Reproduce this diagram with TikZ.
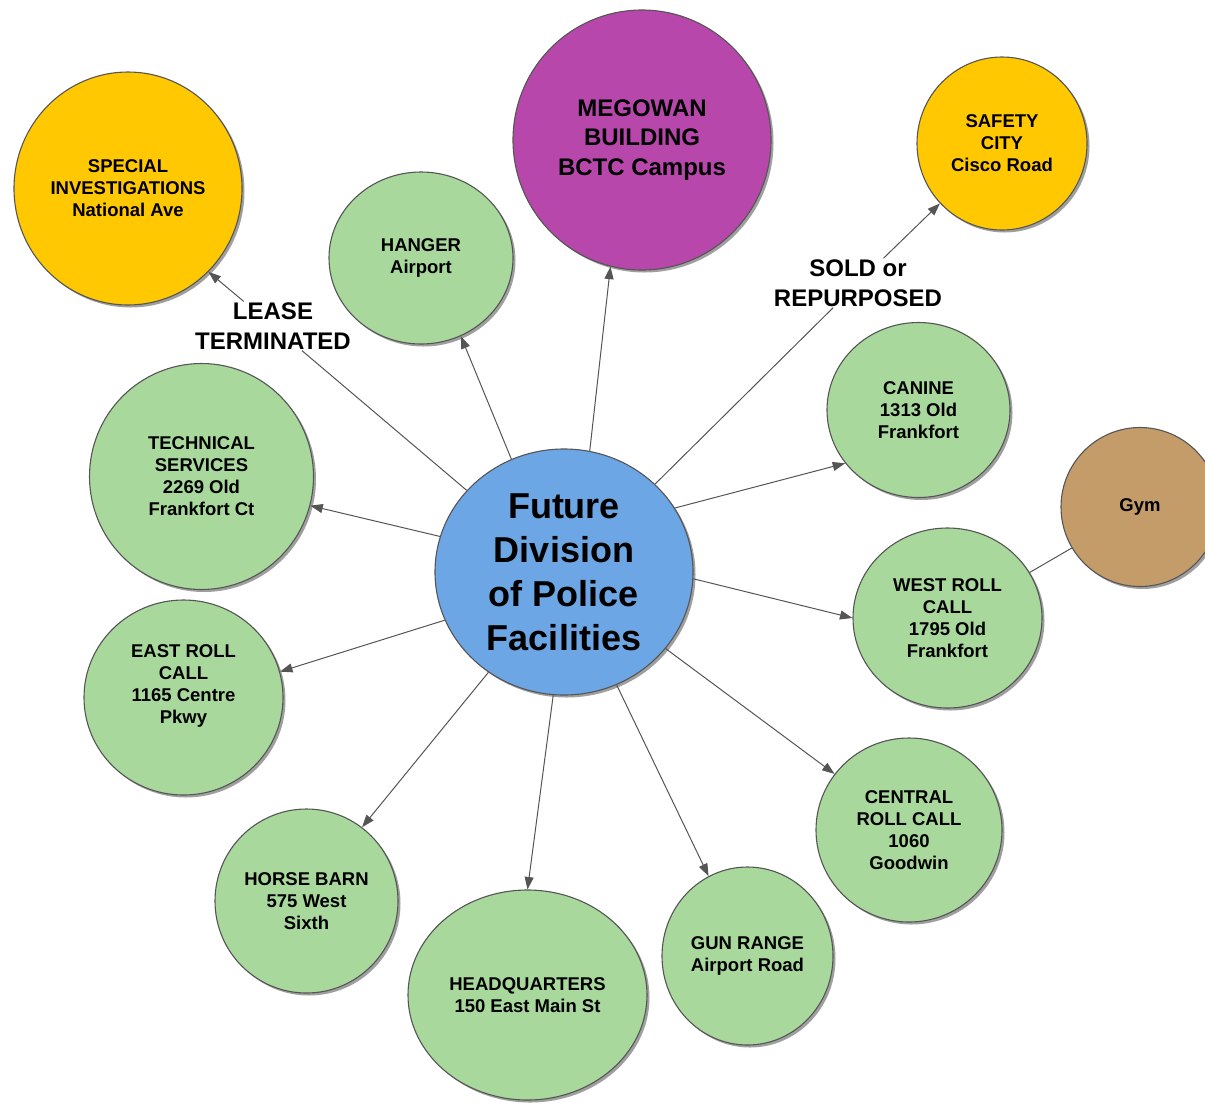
\documentclass[tikz,border=0pt]{standalone}
\usepackage{fontspec}
\setmainfont{Liberation Sans}
\usetikzlibrary{shapes.geometric,arrows.meta,shadows}
\definecolor{bgreen}{HTML}{A8D89C}
\definecolor{byellow}{HTML}{FFC800}
\definecolor{bpurple}{HTML}{B847AC}
\definecolor{bblue}{HTML}{6CA6E4}
\definecolor{btan}{HTML}{C49C6A}
\definecolor{bline}{HTML}{555555}
\begin{document}
\begin{tikzpicture}[x=1pt,y=-1pt,
  bub/.style={ellipse, draw=bline, line width=1.1pt, align=center, inner sep=0pt,
    font=\bfseries\fontsize{18.5}{22}\selectfont,
    drop shadow={shadow xshift=2.5pt,shadow yshift=-2.5pt,opacity=0.5,fill=black!75}},
  gbub/.style={bub, fill=bgreen},
  ybub/.style={bub, fill=byellow},
  conn/.style={draw=bline, line width=1pt, -{Triangle[length=12.5pt,width=9pt]}},
  plainconn/.style={draw=bline, line width=1pt},
  lbl/.style={align=center, inner sep=1pt, font=\bfseries\fontsize{24}{30}\selectfont},
  sz/.style 2 args={minimum width=#1pt, minimum height=#2pt}
]
\useasboundingbox (0,0) rectangle (1205,1104);

% nodes
\node[bub, fill=bblue, sz={258}{246}, font=\bfseries\fontsize{36}{44}\selectfont] (central) at (564,572) {Future\\Division\\of Police\\Facilities};
\node[bub, fill=bpurple, sz={258}{260}, font=\bfseries\fontsize{24}{29.5}\selectfont] (megowan) at (642,140) {MEGOWAN\\BUILDING\\BCTC Campus};
\node[ybub, sz={228}{233}] (special) at (128,188.5) {SPECIAL\\INVESTIGATIONS\\National Ave};
\node[ybub, sz={170}{173}] (safety) at (1002,143.5) {SAFETY\\CITY\\Cisco Road};
\node[gbub, sz={184}{172}] (hanger) at (421,258) {HANGER\\Airport};
\node[gbub, sz={183}{175}] (canine) at (918.5,410) {CANINE\\1313 Old\\Frankfort};
\node[bub, fill=btan, sz={158}{159}] (gym) at (1140,507) {Gym};
\node[gbub, sz={189}{180}] (west) at (947.5,618) {WEST ROLL\\CALL\\1795 Old\\Frankfort};
\node[gbub, sz={186}{184}] (centralrc) at (909,830) {CENTRAL\\ROLL CALL\\1060\\Goodwin};
\node[gbub, sz={171}{178}] (gun) at (747.5,956) {GUN RANGE\\Airport Road};
\node[gbub, sz={239}{210}] (hq) at (527.5,995) {HEADQUARTERS\\150 East Main St};
\node[gbub, sz={183}{184}] (horse) at (306.5,901) {HORSE BARN\\575 West\\Sixth};
\node[gbub, sz={199}{195}] (east) at (183.5,697.5) {};
\node[align=center, inner sep=0pt, font=\bfseries\fontsize{18.5}{22}\selectfont] (easttext) at (183.5,685.5) {EAST ROLL\\CALL\\1165 Centre\\Pkwy};
\node[gbub, sz={224}{226}] (tech) at (201.5,476.5) {TECHNICAL\\SERVICES\\2269 Old\\Frankfort Ct};

% connector labels
\node[lbl] (lease) at (273,326) {LEASE\\TERMINATED};
\node[lbl] (sold) at (858,283) {SOLD or\\REPURPOSED};

% connectors
\draw[plainconn] (central.140) -- (lease);
\draw[conn] (lease) -- (special.-46.5);
\draw[plainconn] (central.44) -- (sold);
\draw[conn] (sold) -- (safety.224.8);
\draw[conn] (central.115) -- (hanger.-63);
\draw[conn] (central.78) -- (megowan.-104.3);
\draw[conn] (central.30.7) -- (canine.216);
\draw[conn] (central.-3) -- (west.180);
\draw[conn] (central.-37.4) -- (centralrc.143);
\draw[conn] (central.-65.6) -- (gun.116.6);
\draw[conn] (central.-95.8) -- (hq.90);
\draw[conn] (central.-127) -- (horse.53);
\draw[conn] (central.-158.6) -- (east.15.6);
\draw[conn] (central.164.7) -- (tech.-15.8);
\draw[plainconn] (west.29) -- (gym.211);
\end{tikzpicture}
\end{document}
